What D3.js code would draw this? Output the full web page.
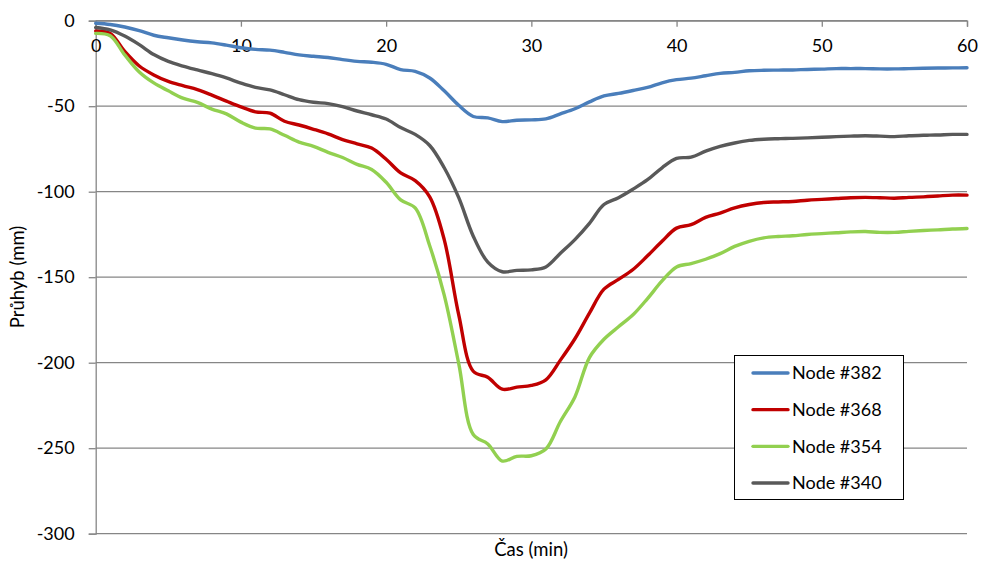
<!DOCTYPE html>
<html>
<head>
<meta charset="utf-8">
<script src="https://cdn.jsdelivr.net/npm/d3@7"></script>
<style>
  html, body { margin: 0; padding: 0; background: #fff; }
  svg { display: block; }
  text { font-family: Lato, "Open Sans", sans-serif; fill: #000; }
</style>
</head>
<body>
<svg id="chart" width="982" height="564"></svg>
<script>
// Time axis (minutes)
const time = d3.range(0, 61);

// Deflection (mm) per node
const node382 = [-1.5, -2.2, -3.7, -5.8, -8.5, -10, -11.3, -12.3, -13, -14.3,
  -15.8, -16.8, -17.2, -18.5, -20, -20.8, -21.5, -22.8, -23.8, -24.3,
  -25.5, -28.6, -29.6, -33.5, -41, -49.5, -56, -56.8, -59, -58.2,
  -58, -57.4, -54.5, -51.5, -47.5, -44, -42.5, -40.8, -39, -36.3,
  -34.5, -33.6, -32.2, -30.8, -30.2, -29.3, -29, -28.9, -28.8, -28.5,
  -28.3, -28, -28, -28, -28.2, -28.2, -28, -27.8, -27.7, -27.6, -27.5];

const node368 = [-6, -7.4, -18, -26.5, -31.7, -35.5, -38, -40.3, -43.5, -47,
  -50.4, -53.3, -54.1, -58.8, -61, -63.5, -66.2, -69.5, -72, -74.5,
  -81, -89, -93.5, -103, -128, -172, -205, -208.5, -215.5, -214.3,
  -213.3, -210, -198.5, -186, -171, -157, -151.3, -145.5, -137.5, -129,
  -121.3, -119.3, -115, -112.5, -109.5, -107.5, -106.3, -106, -105.7, -105,
  -104.5, -104, -103.5, -103.3, -103.5, -103.8, -103.3, -103, -102.5, -102, -102];

const node354 = [-7.4, -8.8, -20, -30, -36.4, -41, -45.3, -47.8, -51.7, -54.5,
  -59.3, -62.8, -63.3, -67, -71, -73.5, -77, -80, -84, -87,
  -94.5, -104.8, -109.5, -131.6, -160.5, -200.5, -242, -247.5, -257.5, -254.8,
  -254.4, -250.5, -234.4, -220, -197, -186.3, -179, -172, -162.5, -152.2,
  -144, -142, -139.5, -136.2, -132, -129, -127, -126.2, -125.8, -125,
  -124.5, -124, -123.5, -123.3, -123.8, -123.8, -123.2, -122.7, -122.3, -121.8, -121.5];

const node340 = [-4, -5.4, -9, -14, -19.8, -23.8, -26.5, -28.8, -31, -33.5,
  -36.5, -39, -40.5, -43.3, -46.2, -47.7, -48.5, -50.3, -52.8, -55,
  -57.5, -62.5, -66.5, -73, -86, -103.5, -126, -141.2, -146.8, -146,
  -145.7, -144, -136, -128, -118.5, -107.5, -103.5, -98.5, -93, -86,
  -80.5, -79.8, -76.3, -73.5, -71.5, -70, -69.3, -69, -68.8, -68.5,
  -68.2, -67.8, -67.5, -67.3, -67.5, -67.8, -67.3, -67, -66.8, -66.5, -66.5];

const seriesNames = ["Node #382", "Node #368", "Node #354", "Node #340"];
const seriesValues = [node382, node368, node354, node340];
const seriesColors = ["#4a7ebb", "#c00000", "#92d050", "#595959"];

const xTicks = [0, 10, 20, 30, 40, 50, 60];
const yTicks = [0, -50, -100, -150, -200, -250, -300];

const xTitle = "Čas (min)";
const yTitle = "Průhyb (mm)";

const svg = d3.select("#chart");
const gridColor = "#868686";
const plainNumber = d => String(d);   // keep an ASCII hyphen for negatives

const x = d3.scaleLinear().domain([0, 60]).range([95.7, 967]);
const y = d3.scaleLinear().domain([-300, 0]).range([533.7, 20.7]);

// Horizontal gridlines
svg.append("g")
  .selectAll("line")
  .data(yTicks)
  .join("line")
  .attr("x1", x(0)).attr("x2", x(60))
  .attr("y1", d => y(d)).attr("y2", d => y(d))
  .attr("stroke", gridColor).attr("stroke-width", 1.3);

// Value axis on the left
const yAxis = svg.append("g")
  .attr("transform", `translate(${x(0)},0)`)
  .call(d3.axisLeft(y).tickValues(yTicks).tickSize(7).tickPadding(14).tickFormat(plainNumber));
yAxis.select(".domain").attr("stroke", gridColor).attr("stroke-width", 1.3);
yAxis.selectAll(".tick line").attr("stroke", gridColor).attr("stroke-width", 1.3);
yAxis.selectAll(".tick text")
  .attr("font-size", 18).attr("font-family", "Lato, 'Open Sans', sans-serif").attr("fill", "#000");

// Time axis along the zero line, ticks and labels hanging into the plot
const xAxis = svg.append("g")
  .attr("transform", `translate(0,${y(0)})`)
  .call(d3.axisBottom(x).tickValues(xTicks).tickSize(6).tickPadding(13).tickFormat(plainNumber));
xAxis.select(".domain").attr("stroke", gridColor).attr("stroke-width", 1.3);
xAxis.selectAll(".tick line").attr("stroke", gridColor).attr("stroke-width", 1.3);
xAxis.selectAll(".tick text")
  .attr("font-size", 18).attr("font-family", "Lato, 'Open Sans', sans-serif").attr("fill", "#000");

// Series lines
const line = d3.line()
  .x((d, i) => x(time[i]))
  .y(d => y(d))
  .curve(d3.curveCatmullRom.alpha(0.5));

svg.append("g")
  .selectAll("path")
  .data(seriesValues)
  .join("path")
  .attr("d", d => line(d))
  .attr("fill", "none")
  .attr("stroke", (d, i) => seriesColors[i])
  .attr("stroke-width", 3.4)
  .attr("stroke-linejoin", "round")
  .attr("stroke-linecap", "round");

// Axis titles
svg.append("text")
  .attr("x", 531).attr("y", 556)
  .attr("text-anchor", "middle")
  .attr("font-size", 18.5)
  .text(xTitle);

svg.append("text")
  .attr("transform", "translate(24,277) rotate(-90)")
  .attr("text-anchor", "middle")
  .attr("font-size", 18.5)
  .text(yTitle);

// Legend
const legend = svg.append("g");
legend.append("rect")
  .attr("x", 734.5).attr("y", 355.5)
  .attr("width", 169).attr("height", 144)
  .attr("fill", "#fff").attr("stroke", "#000").attr("stroke-width", 1);

const rowY = d3.scalePoint().domain(seriesNames).range([373, 483]);
const items = legend.selectAll("g.item")
  .data(seriesNames)
  .join("g")
  .attr("class", "item")
  .attr("transform", d => `translate(0,${rowY(d)})`);
items.append("line")
  .attr("x1", 753).attr("x2", 788)
  .attr("stroke", (d, i) => seriesColors[i])
  .attr("stroke-width", 3.4)
  .attr("stroke-linecap", "round");
items.append("text")
  .attr("x", 792).attr("y", 0)
  .attr("dy", "0.35em")
  .attr("font-size", 18)
  .text(d => d);
</script>
</body>
</html>
